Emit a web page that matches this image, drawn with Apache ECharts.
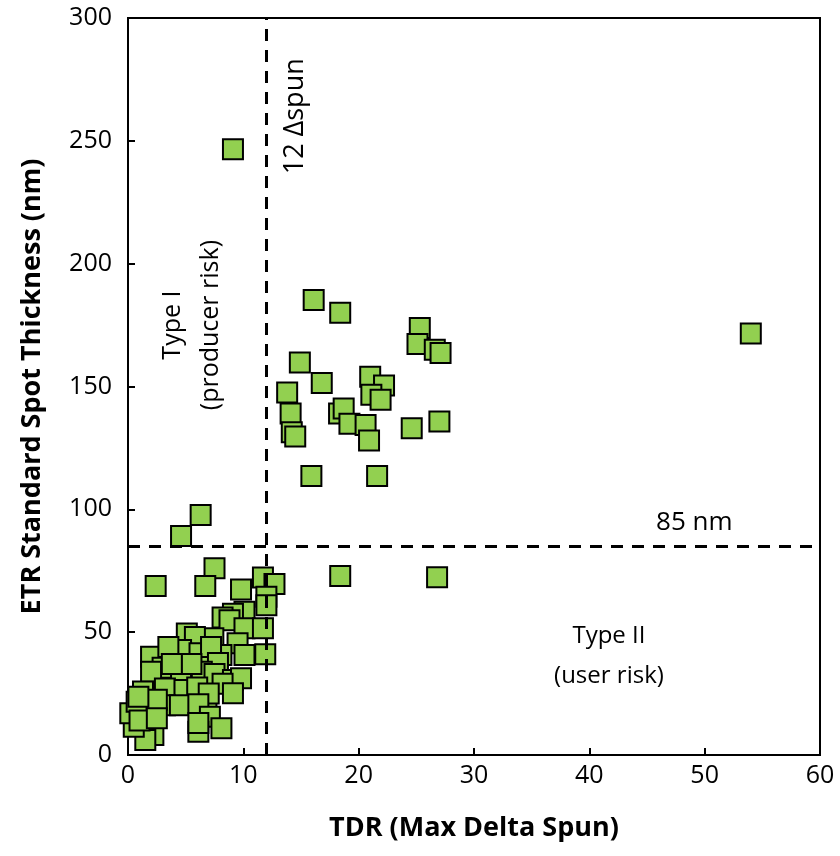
<!DOCTYPE html>
<html>
<head>
<meta charset="utf-8">
<script src="https://cdn.jsdelivr.net/npm/echarts@6/dist/echarts.min.js"></script>
<style>
  html, body { margin: 0; padding: 0; background: #fff; }
  #chart { width: 840px; height: 856px; }
</style>
</head>
<body>
<div id="chart"></div>
<script>
// TDR (max delta spun) vs ETR spot thickness (nm)
const upperPoints = [
  [9.1, 246.6], [16.1, 185.2], [18.4, 180.0], [25.3, 173.8], [25.1, 167.3],
  [26.6, 165.0], [27.1, 163.6], [14.9, 159.8], [16.8, 151.4], [21.0, 154.0],
  [22.2, 150.4], [21.1, 146.6], [21.9, 144.6], [13.8, 147.6], [14.1, 139.0],
  [14.2, 131.4], [14.5, 129.6], [18.3, 139.0], [18.7, 141.0], [19.2, 134.8],
  [20.6, 134.3], [20.9, 128.0], [24.6, 133.0], [27.0, 135.8], [15.9, 113.6],
  [21.6, 113.6], [54.0, 171.6]
];

const lowerPoints = [
  [18.4, 72.9], [26.8, 72.4],
  [6.3, 97.7], [4.6, 89.1], [2.4, 68.8], [7.5, 76.0], [6.7, 68.8],
  [9.8, 67.4], [11.7, 72.3], [12.7, 69.6], [12.0, 64.4], [12.0, 61.0],
  [10.1, 58.3], [9.1, 57.5], [8.2, 56.0], [8.8, 54.9], [10.1, 51.6], [11.7, 51.6],
  [7.4, 47.5], [9.5, 45.5], [5.1, 49.5], [5.8, 48.0], [4.6, 42.7], [6.2, 41.4],
  [8.1, 40.7], [10.1, 40.7], [11.9, 41.0], [2.0, 40.0], [3.5, 44.0], [7.2, 44.0],
  [3.0, 35.5], [5.0, 30.0], [7.8, 37.5], [6.8, 22.5],
  [2.0, 33.9], [4.6, 33.9], [6.4, 33.9], [7.5, 33.0], [5.5, 37.0], [3.8, 37.0],
  [9.1, 30.5], [9.8, 31.2], [8.2, 29.0], [3.2, 27.1], [1.3, 25.8], [4.9, 26.5],
  [6.0, 27.5], [9.1, 25.1], [7.0, 25.0], [1.6, 18.3], [3.2, 20.3], [4.5, 20.3],
  [6.1, 20.7], [2.5, 22.5], [7.1, 15.6], [8.1, 10.9], [6.1, 9.5], [6.1, 13.0],
  [2.2, 8.1], [1.5, 6.1], [0.5, 11.5], [0.2, 17.0], [0.75, 21.7], [1.0, 14.0],
  [2.5, 15.0], [0.9, 23.7]
];

const annotations = [
  { text: "12 \u0394spun", value: [14.5, 260.0], rotate: 90, size: 27, lh: 34 },
  { text: "Type I\n(producer risk)", value: [5.5, 175.0], rotate: 90, size: 25, lh: 38 },
  { text: "Type II\n(user risk)", value: [41.7, 40.3], rotate: 0, size: 24, lh: 40 },
  { text: "85 nm", value: [49.1, 94.8], rotate: 0, size: 26, lh: 34 }
];

const xLimit = 12;
const yLimit = 85;

const font = "Open Sans";

const chart = echarts.init(document.getElementById("chart"));

const pointStyle = {
  color: "#92D050",
  borderColor: "#000",
  borderWidth: 2,
  opacity: 1
};

const option = {
  animation: false,
  backgroundColor: "#fff",
  grid: {
    left: 128,
    right: 20,
    top: 18,
    bottom: 101,
    show: true,
    borderColor: "#000",
    borderWidth: 2,
    backgroundColor: "transparent"
  },
  xAxis: {
    type: "value",
    min: 0,
    max: 60,
    interval: 10,
    name: "TDR (Max Delta Spun)",
    nameLocation: "middle",
    nameGap: 60,
    nameTextStyle: { fontFamily: font, fontSize: 27, fontWeight: "bold", color: "#000" },
    axisLine: { show: true, lineStyle: { color: "#000", width: 2 } },
    axisTick: { show: true, inside: true, length: 7, lineStyle: { color: "#000", width: 2 } },
    axisLabel: { fontFamily: font, fontSize: 25, color: "#000", margin: 8 },
    splitLine: { show: false }
  },
  yAxis: {
    type: "value",
    min: 0,
    max: 300,
    interval: 50,
    name: "ETR Standard Spot Thickness (nm)",
    nameLocation: "middle",
    nameGap: 82,
    nameTextStyle: { fontFamily: font, fontSize: 27, fontWeight: "bold", color: "#000" },
    axisLine: { show: true, lineStyle: { color: "#000", width: 2 } },
    axisTick: { show: true, inside: true, length: 7, lineStyle: { color: "#000", width: 2 } },
    axisLabel: { fontFamily: font, fontSize: 25, color: "#000", margin: 16 },
    splitLine: { show: false }
  },
  series: [
    {
      type: "scatter",
      symbol: "rect",
      symbolSize: 20,
      data: lowerPoints.concat(upperPoints),
      itemStyle: pointStyle,
      z: 3,
      markLine: {
        silent: true,
        symbol: ["none", "none"],
        label: { show: false },
        lineStyle: { color: "#000", width: 3, type: [12, 9], opacity: 1 },
        data: [
          [{ coord: [xLimit, 0] }, { coord: [xLimit, 300] }],
          [{ coord: [0, yLimit] }, { coord: [60, yLimit] }]
        ]
      }
    },
    {
      type: "scatter",
      symbolSize: 0,
      silent: true,
      z: 4,
      itemStyle: { opacity: 1 },
      data: annotations.map(a => ({
        value: a.value,
        label: {
          show: true,
          formatter: a.text,
          rotate: a.rotate,
          position: "inside",
          align: "center",
          verticalAlign: "middle",
          fontFamily: font,
          fontSize: a.size,
          lineHeight: a.lh,
          color: "#000",
          opacity: 1
        }
      }))
    }
  ]
};

chart.setOption(option);
</script>
</body>
</html>
